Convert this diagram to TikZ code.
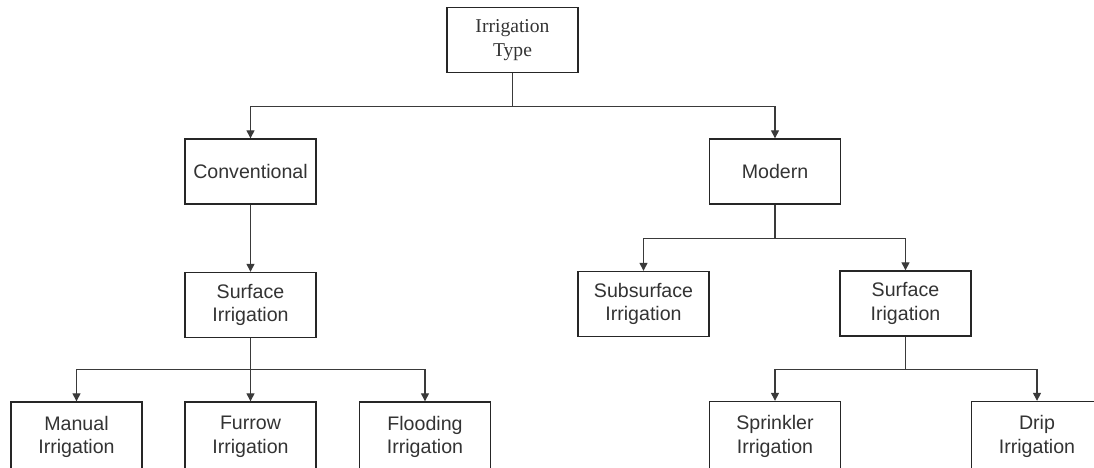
\documentclass[tikz,border=0pt]{standalone}
\usepackage{fontspec}
\setmainfont{Liberation Sans}
\newfontfamily\timesfont{Liberation Serif}
\usetikzlibrary{arrows.meta}
\definecolor{linegray}{HTML}{3A3A3A}
\definecolor{textgray}{HTML}{333333}
\begin{document}
\begin{tikzpicture}[x=1pt,y=-1pt,
  box/.style={draw=black!85, line width=1.4pt, minimum width=131pt, minimum height=65pt, inner sep=0pt, align=center, text=textgray, font=\fontsize{19.6}{23.5}\selectfont},
  leaf/.style={box, minimum height=70pt},
  trunk/.style={draw=linegray, line width=1.3pt},
  link/.style={trunk, -{Triangle[length=8pt,width=8pt]}}]
\useasboundingbox (0,0) rectangle (1094,467);
\clip (0,0) rectangle (1094,467);
%%% The root and the two families
\node[box, font=\timesfont\fontsize{19.6}{23.5}\selectfont] (type) at (512.5, 40) {Irrigation\\Type};
\node[box] (conv) at (250.5, 171.5) {Conventional};
\node[box] (modern) at (775, 171.5) {Modern};
%%% Second level
\node[box] (surfL) at (250.5, 305) {Surface\\Irrigation};
\node[box] (subsurf) at (643.5, 304) {Subsurface\\Irrigation};
\node[box] (surfR) at (905.5, 303.5) {Surface\\Irigation};
%%% Leaves (cut by the lower edge)
\node[leaf] (manual) at (76.5, 437) {Manual\\Irrigation};
\node[leaf] (furrow) at (250.5, 437) {Furrow\\Irrigation};
\node[leaf] (flooding) at (425, 437) {Flooding\\Irrigation};
\node[leaf] (sprinkler) at (775, 436.5) {Sprinkler\\Irrigation};
\node[leaf] (drip) at (1037, 436.5) {Drip\\Irrigation};
%%% Connectors
\draw[trunk] (type.south) -- ++(0,33) coordinate (j1);
\draw[link] (j1) -| (conv.north);
\draw[link] (j1) -| (modern.north);
\draw[link] (conv.south) -- (surfL.north);
\draw[trunk] (modern.south) -- ++(0,34) coordinate (j2);
\draw[link] (j2) -| (subsurf.north);
\draw[link] (j2) -| (surfR.north);
\draw[link] (surfL.south) -- (furrow.north);
\path (surfL.south) ++(0,31) coordinate (j3);
\draw[link] (j3) -| (manual.north);
\draw[link] (j3) -| (flooding.north);
\draw[trunk] (surfR.south) -- ++(0,33) coordinate (j4);
\draw[link] (j4) -| (sprinkler.north);
\draw[link] (j4) -| (drip.north);
\end{tikzpicture}
\end{document}
